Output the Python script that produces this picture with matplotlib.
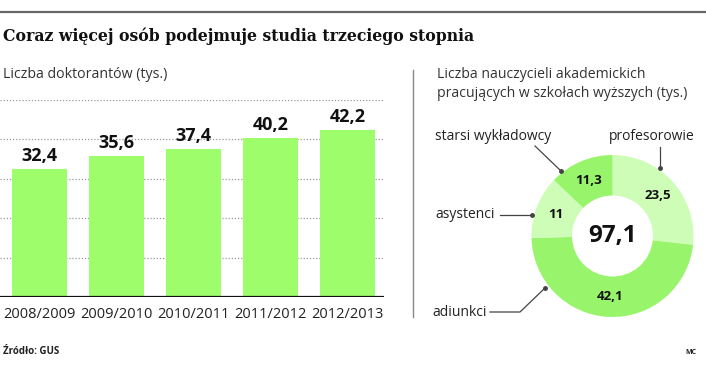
import matplotlib.pyplot as plt
import numpy as np

lata = ['2008/2009', '2009/2010', '2010/2011', '2011/2012', '2012/2013']
doktoranci = [32.4, 35.6, 37.4, 40.2, 42.2]

grupy = ['profesorowie', 'adiunkci', 'asystenci', 'starsi wykładowcy']
nauczyciele = [23.5, 42.1, 11, 11.3]
razem = 97.1

zielony = '#9dfd6b'
ciemny = '#98f56b'
jasny = '#cdfdb6'

plt.rcParams['font.family'] = ['Open Sans', 'DejaVu Sans']

W, H = 706, 384
fig = plt.figure(figsize=(W / 100, H / 100), dpi=100)


def fx(x):
    return x / W


def fy(y):
    return 1 - y / H


def fmt(v):
    s = ('%.1f' % v).replace('.', ',')
    return s[:-2] if s.endswith(',0') else s


# naglowek
fig.add_artist(plt.Line2D([0, 1], [fy(12), fy(12)], color='#666666', lw=1.6))
fig.text(fx(3), fy(36), 'Coraz więcej osób podejmuje studia trzeciego stopnia',
         family='DejaVu Serif', weight='heavy', fontsize=11.3, color='#111111', va='center')
fig.text(fx(3), fy(75), 'Liczba doktorantów (tys.)', fontsize=10.2, color='#333333', va='center')
fig.add_artist(plt.Line2D([fx(413), fx(413)], [fy(70), fy(317)], color='#888888', lw=1))

# wykres slupkowy
ax = fig.add_axes([0, fy(297), fx(384), (297 - 99.5) / H])
x = np.arange(len(lata))
ax.bar(x, doktoranci, width=0.714, color=zielony, zorder=2)
for xi, v in zip(x, doktoranci):
    ax.text(xi, v + 2.0, fmt(v), ha='center', va='baseline', fontsize=13,
            weight='bold', color='#111111')
ax.set_xlim(-0.513, 4.474)
ax.set_ylim(0, 50)
ax.set_yticks([10, 20, 30, 40, 50])
ax.yaxis.grid(True, linestyle=(0, (1, 1.5)), color='#999999', lw=0.9, zorder=0)
ax.axhline(0, color='#111111', lw=1.6, zorder=3)
ax.set_xticks(x)
ax.set_xticklabels(lata, fontsize=10.5, color='#222222')
ax.tick_params(length=0, pad=7, labelleft=False)
for s in ax.spines.values():
    s.set_visible(False)

# wykres kolowy
fig.text(fx(437), fy(84), 'Liczba nauczycieli akademickich\npracujących w szkołach wyższych (tys.)',
         fontsize=10.1, color='#333333', va='center', linespacing=1.3)

cx, cy, r = 612.5, 236, 81
ax2 = fig.add_axes([fx(cx - 100), fy(cy + 100), 200 / W, 200 / H])
kliny, _ = ax2.pie(nauczyciele, colors=[jasny, ciemny, jasny, ciemny], startangle=90,
                   counterclock=False, radius=1, wedgeprops=dict(width=0.5, linewidth=0))
ax2.set_xlim(-100 / r, 100 / r)
ax2.set_ylim(-100 / r, 100 / r)
ax2.set_aspect('equal')
ax2.axis('off')
for k, v in zip(kliny, nauczyciele):
    a = np.deg2rad((k.theta1 + k.theta2) / 2)
    ax2.text(0.75 * np.cos(a), 0.75 * np.sin(a), fmt(v), ha='center', va='center',
             fontsize=9.5, weight='bold', color='#111111')
ax2.text(0, 0, fmt(razem), ha='center', va='center', fontsize=17.5, weight='bold', color='#111111')

# podpisy z liniami
linie = [
    ([fx(660), fx(660)], [fy(147), fy(168)]),
    ([fx(535), fx(561)], [fy(146), fy(171)]),
    ([fx(500), fx(532)], [fy(215), fy(215)]),
    ([fx(490), fx(520), fx(545)], [fy(312), fy(312), fy(288)]),
]
for lx, ly in linie:
    fig.add_artist(plt.Line2D(lx, ly, color='#444444', lw=0.9))
    fig.add_artist(plt.Line2D([lx[-1]], [ly[-1]], marker='o', ms=2.5, color='#444444'))
fig.text(fx(609), fy(136), 'profesorowie', fontsize=10, color='#222222', va='center')
fig.text(fx(435), fy(136), 'starsi wykładowcy', fontsize=10, color='#222222', va='center')
fig.text(fx(435), fy(215), 'asystenci', fontsize=10, color='#222222', va='center')
fig.text(fx(432), fy(312), 'adiunkci', fontsize=10, color='#222222', va='center')

# stopka
fig.text(fx(3), fy(352), 'Źródło: GUS', fontsize=7, weight='bold', color='#222222', va='center')
fig.text(fx(685), fy(353), 'MC', fontsize=5, weight='bold', color='#222222', va='center')

fig.savefig('out.png', dpi=100)
